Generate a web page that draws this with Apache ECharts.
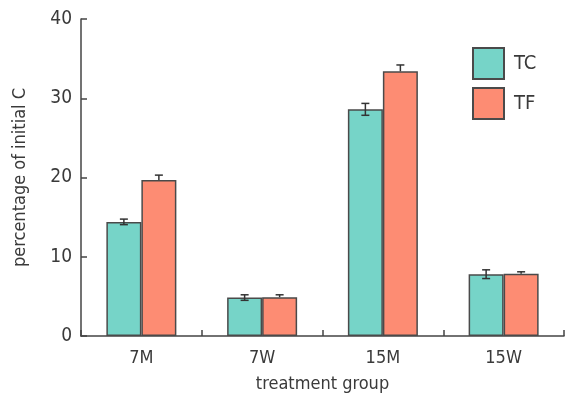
<!DOCTYPE html>
<html>
<head>
<meta charset="utf-8">
<script src="https://cdn.jsdelivr.net/npm/echarts@6/dist/echarts.min.js"></script>
<style>
html,body{margin:0;padding:0;background:#fff;}
#chart{width:565px;height:396px;}
</style>
</head>
<body>
<div id="chart"></div>
<script>
var categories = ['7M', '7W', '15M', '15W'];
var tcValues = [14.4, 4.85, 28.6, 7.8];
var tfValues = [19.7, 4.9, 33.4, 7.85];
var tcErrors = [0.35, 0.35, 0.75, 0.55];
var tfErrors = [0.6, 0.3, 0.8, 0.25];
var yTicks = [0, 10, 20, 30, 40];

var FONT = "'Liberation Sans Narrow', 'DejaVu Sans Condensed', Roboto, sans-serif";
var TEXT = '#3a3a3a';
var LINE = '#444';
var BAR_W = 35;

function errData(vals, errs) {
  return vals.map(function (v, i) { return [i, v, errs[i]]; });
}

function makeErr(offsetSign, upperOnly) {
  return function (params, api) {
    var idx = api.value(0), v = api.value(1), e = api.value(2);
    var c = api.coord([idx, v]);
    var hi = api.coord([idx, v + e]);
    var lo = api.coord([idx, v - e]);
    var x = c[0] + offsetSign * BAR_W / 2;
    var hw = 4;
    var style = { stroke: '#333', lineWidth: 1.5, fill: null };
    var bottomY = upperOnly ? c[1] : lo[1];
    var children = [
      { type: 'line', shape: { x1: x, y1: bottomY, x2: x, y2: hi[1] }, style: style },
      { type: 'line', shape: { x1: x - hw, y1: hi[1], x2: x + hw, y2: hi[1] }, style: style }
    ];
    if (!upperOnly) {
      children.push({ type: 'line', shape: { x1: x - hw, y1: lo[1], x2: x + hw, y2: lo[1] }, style: style });
    }
    return { type: 'group', children: children };
  };
}

var chart = echarts.init(document.getElementById('chart'), null, { renderer: 'canvas' });
chart.setOption({
  animation: false,
  textStyle: { fontFamily: FONT },
  grid: { left: 81, right: 1, top: 19, bottom: 60, containLabel: false, outerBoundsMode: 'none' },
  legend: {
    orient: 'vertical',
    left: 472,
    top: 47,
    padding: 0,
    itemWidth: 31,
    itemHeight: 31,
    itemGap: 7,
    icon: 'rect',
    data: ['TC', 'TF'],
    textStyle: { fontSize: 20, color: TEXT, fontFamily: FONT, padding: [0, 0, 0, 5] }
  },
  xAxis: {
    type: 'category',
    data: categories,
    name: 'treatment group',
    nameLocation: 'middle',
    nameGap: 39,
    nameTextStyle: { fontSize: 18, color: TEXT, fontFamily: FONT },
    axisLine: { show: true, lineStyle: { color: LINE, width: 1.5 } },
    axisTick: { show: true, inside: true, length: 6, alignWithLabel: false, lineStyle: { color: LINE, width: 1.5 } },
    axisLabel: { fontSize: 18, color: TEXT, margin: 13, fontFamily: FONT },
    splitLine: { show: false }
  },
  yAxis: {
    type: 'value',
    min: 0,
    max: 40,
    interval: 10,
    name: 'percentage of initial C',
    nameLocation: 'middle',
    nameRotate: 90,
    nameGap: 52,
    nameTextStyle: { fontSize: 18, color: TEXT, fontFamily: FONT },
    axisLine: { show: true, lineStyle: { color: LINE, width: 1.5 } },
    axisTick: { show: true, inside: true, length: 6, lineStyle: { color: LINE, width: 1.5 } },
    axisLabel: {
      fontSize: 19, color: TEXT, margin: 9, fontFamily: FONT,
      formatter: function (v) { return yTicks.indexOf(v) >= 0 ? String(v) : ''; }
    },
    splitLine: { show: false }
  },
  series: [
    {
      name: 'TC', type: 'bar', data: tcValues, barWidth: BAR_W, barGap: '0%',
      itemStyle: { color: '#76d4c8', borderColor: '#4a4a4a', borderWidth: 1.5 }
    },
    {
      name: 'TF', type: 'bar', data: tfValues, barWidth: BAR_W, barGap: '0%',
      itemStyle: { color: '#fd8c73', borderColor: '#4a4a4a', borderWidth: 1.5 }
    },
    {
      name: 'TC err', type: 'custom', data: errData(tcValues, tcErrors),
      renderItem: makeErr(-1, false), z: 5, silent: true
    },
    {
      name: 'TF err', type: 'custom', data: errData(tfValues, tfErrors),
      renderItem: makeErr(1, true), z: 5, silent: true
    }
  ]
});
</script>
</body>
</html>
